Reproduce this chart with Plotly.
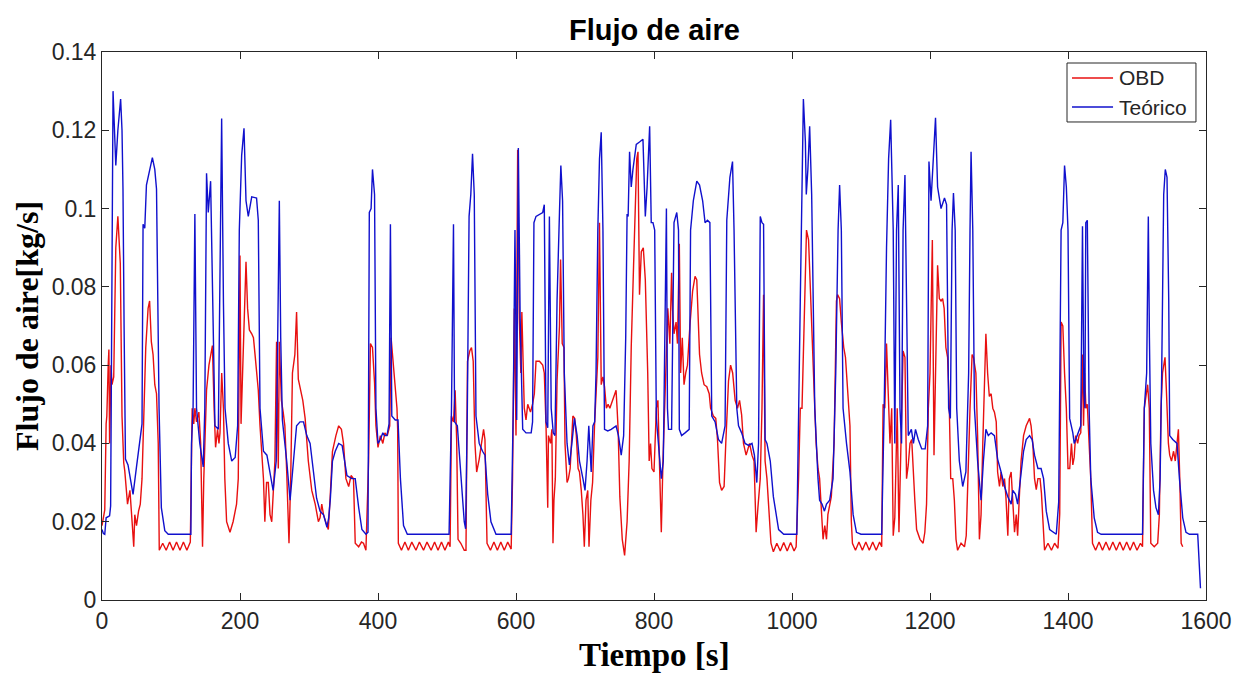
import plotly.graph_objects as go

# OBD (measured) air flow: (time [s], flow [kg/s])
obd_points = [
    (0, 0.019), (2, 0.021), (4, 0.023), (6, 0.045), (7, 0.047), (9, 0.06), (10, 0.064), (11, 0.04),
    (13, 0.06), (14.5, 0.055), (17, 0.057), (20, 0.09), (23, 0.098), (26.5, 0.086), (29, 0.047),
    (31.5, 0.035), (33, 0.033), (37, 0.0245), (40.5, 0.028), (44, 0.019), (46, 0.0136), (47.5, 0.0218),
    (50, 0.019), (53, 0.0227), (55.5, 0.0245), (58, 0.031), (60.5, 0.049), (63.4, 0.0645), (66.8, 0.0745),
    (69, 0.0764), (71.5, 0.066), (74, 0.0627), (76.5, 0.055), (79, 0.0527), (81.5, 0.04), (83, 0.0127),
    (88, 0.0145), (93, 0.0127), (98, 0.0148), (103, 0.0127), (108, 0.0148), (113, 0.0127), (118, 0.0148),
    (123, 0.0127), (128, 0.0148), (130.7, 0.049), (133, 0.045), (134.6, 0.049), (137, 0.0455),
    (140.4, 0.048), (143, 0.04), (145.7, 0.0136), (147.5, 0.031), (151.5, 0.0536), (155, 0.06), (160, 0.065),
    (162.5, 0.049), (164.6, 0.039), (167.5, 0.0436), (169.5, 0.04), (171, 0.0427), (173.5, 0.058),
    (176, 0.049), (178, 0.031), (180.6, 0.02), (185.5, 0.0173), (190, 0.02), (195, 0.0245), (197.5, 0.031),
    (200, 0.088), (201.5, 0.045), (204.8, 0.067), (208.7, 0.0864), (211, 0.0745), (213.6, 0.069),
    (217, 0.068), (219.5, 0.067), (221.8, 0.0627), (224, 0.058), (226.5, 0.0536), (229, 0.0445),
    (232, 0.036), (234, 0.031), (236, 0.02), (238.5, 0.03), (241, 0.03), (243.5, 0.0218), (246, 0.02),
    (248, 0.0273), (250.6, 0.0355), (253, 0.066), (255.5, 0.0336), (257, 0.066), (260, 0.051),
    (262.6, 0.048), (265, 0.0445), (267.7, 0.0327), (271, 0.0145), (273.5, 0.031), (276, 0.058),
    (279.5, 0.0627), (282, 0.0736), (284.5, 0.0564), (287, 0.0545), (291, 0.051), (294.4, 0.0464),
    (297, 0.04), (299, 0.0355), (304, 0.028), (309, 0.0245), (313.6, 0.02), (316, 0.021), (318.5, 0.0245),
    (321, 0.0218), (326, 0.019), (328, 0.018), (330.6, 0.026), (334, 0.038), (339, 0.042), (343, 0.0445),
    (347, 0.0436), (350, 0.04), (353.5, 0.031), (357.5, 0.029), (361, 0.0318), (364.5, 0.031),
    (367, 0.0145), (372, 0.0136), (376, 0.0148), (379, 0.0145), (382.5, 0.0127), (386.4, 0.0355),
    (389, 0.0655), (392, 0.0645), (395, 0.0555), (397, 0.0445), (400, 0.039), (403.4, 0.042), (407, 0.04),
    (410, 0.0427), (413.5, 0.042), (417, 0.0445), (419, 0.067), (421.5, 0.061), (425, 0.0536),
    (427.5, 0.049), (428.5, 0.0436), (429.5, 0.0145), (434, 0.0127), (439, 0.0148), (444, 0.0127),
    (449, 0.0148), (455, 0.0127), (460, 0.0148), (466, 0.0127), (471, 0.0148), (477, 0.0127),
    (482, 0.0148), (487, 0.0127), (492, 0.0148), (497, 0.0127), (502, 0.0148), (504.5, 0.0136),
    (506.5, 0.047), (509.4, 0.0455), (511.8, 0.0536), (514, 0.041), (516, 0.0155), (520, 0.0145),
    (525, 0.0127), (527.5, 0.0127), (529.7, 0.061), (533, 0.0636), (535.5, 0.0645), (538, 0.061),
    (540.5, 0.04), (543, 0.0327), (546.7, 0.036), (550, 0.04), (553, 0.0436), (555, 0.041), (558, 0.0145),
    (563, 0.0127), (568, 0.0148), (573, 0.0127), (578, 0.0148), (583, 0.0127), (588, 0.0148), (593, 0.013),
    (595, 0.031), (597.6, 0.0745), (600, 0.042), (602.4, 0.115), (604.8, 0.072), (607, 0.058),
    (608.5, 0.0736), (612, 0.049), (614.5, 0.046), (617, 0.05), (621, 0.048), (624, 0.05), (626.6, 0.0527),
    (629, 0.061), (634, 0.061), (638.7, 0.06), (641, 0.058), (643.5, 0.0445), (646, 0.0236), (647, 0.042),
    (650, 0.04), (652, 0.0436), (653.6, 0.0145), (655, 0.0255), (657, 0.031), (659.5, 0.056), (663, 0.07),
    (664.6, 0.087), (667, 0.0655), (669.5, 0.0645), (671, 0.04), (674, 0.03), (676, 0.031), (678.5, 0.0336),
    (682.4, 0.047), (685, 0.0464), (687.4, 0.042), (690, 0.0336), (692, 0.0327), (694.6, 0.028),
    (697, 0.0218), (699, 0.0136), (701.5, 0.0255), (704, 0.028), (705.8, 0.0136), (708.5, 0.0255),
    (711, 0.03), (713.8, 0.0445), (718.6, 0.062), (721, 0.0964), (723.5, 0.055), (726, 0.057),
    (728.3, 0.0545), (731, 0.049), (733.5, 0.05), (736, 0.049), (740, 0.051), (745, 0.0536), (746.5, 0.049),
    (748, 0.0436), (750.5, 0.0264), (754, 0.0155), (757.4, 0.0114), (761, 0.02), (764, 0.0355),
    (767, 0.0645), (770.4, 0.0855), (773, 0.1036), (775, 0.1127), (776.8, 0.1145), (779, 0.078),
    (781.6, 0.089), (784.5, 0.09), (787.4, 0.0818), (790.9, 0.058), (793, 0.0355), (795, 0.04),
    (797, 0.0336), (800, 0.0327), (803.4, 0.049), (805.7, 0.051), (808, 0.0345), (810.6, 0.0173),
    (813, 0.0355), (816.5, 0.058), (820, 0.0745), (823, 0.0655), (825.5, 0.0836), (827, 0.074),
    (829, 0.068), (832, 0.071), (834, 0.0655), (836.7, 0.091), (838.6, 0.058), (841, 0.067),
    (843.5, 0.055), (846, 0.058), (848.5, 0.06), (852, 0.07), (856, 0.079), (859.5, 0.0827), (862, 0.0818),
    (866, 0.0627), (869, 0.058), (872.6, 0.055), (876.5, 0.0545), (880, 0.0527), (882, 0.049), (886, 0.047),
    (889.5, 0.0464), (892, 0.041), (895, 0.03), (898, 0.028), (901.6, 0.029), (904, 0.04), (908, 0.056),
    (911, 0.06), (914, 0.058), (917.6, 0.051), (921, 0.049), (924, 0.051), (927, 0.0473), (929.7, 0.04),
    (933.5, 0.037), (938.5, 0.04), (942, 0.037), (945, 0.0355), (948, 0.0173), (950.6, 0.0236), (954, 0.031),
    (956.5, 0.049), (958.8, 0.078), (961, 0.0355), (963.7, 0.031), (966, 0.0245), (969.5, 0.0145),
    (973, 0.0123), (978, 0.0145), (983, 0.0125), (988, 0.0147), (993, 0.0125), (998, 0.0147),
    (1003, 0.0125), (1006, 0.0136), (1009.5, 0.031), (1012, 0.049), (1014.5, 0.049), (1017, 0.067),
    (1021, 0.0945), (1024, 0.092), (1025.6, 0.0836), (1028, 0.0764), (1030.4, 0.058), (1033, 0.049),
    (1035, 0.04), (1037.7, 0.0336), (1040, 0.031), (1042.5, 0.0218), (1045, 0.0155), (1047.5, 0.019),
    (1050, 0.0155), (1052, 0.0218), (1054.6, 0.0245), (1057, 0.0264), (1061, 0.04), (1064.4, 0.0764),
    (1066, 0.078), (1069, 0.077), (1071.5, 0.071), (1075, 0.0645), (1077.5, 0.062), (1080.5, 0.0536),
    (1084, 0.0445), (1086, 0.02), (1087.6, 0.0145), (1092, 0.0127), (1097, 0.0148), (1102, 0.0127),
    (1107, 0.0148), (1112, 0.0127), (1117, 0.0148), (1122, 0.0127), (1127, 0.0148), (1130, 0.0136),
    (1132, 0.05), (1134.5, 0.049), (1137, 0.0655), (1139.5, 0.0527), (1142, 0.04), (1144.5, 0.049),
    (1146.7, 0.0164), (1149, 0.021), (1152.5, 0.049), (1155, 0.0173), (1158, 0.04), (1161, 0.0636),
    (1163.7, 0.062), (1166, 0.031), (1168.5, 0.0345), (1171, 0.04), (1173.5, 0.041), (1176, 0.031),
    (1178, 0.0255), (1180.6, 0.018), (1185.5, 0.0155), (1190, 0.0145), (1192.5, 0.0173), (1195, 0.0245),
    (1197.6, 0.049), (1200, 0.058), (1203.4, 0.092), (1205.8, 0.037), (1208, 0.058), (1211, 0.0855),
    (1213.5, 0.077), (1216, 0.0764), (1218.3, 0.077), (1220.5, 0.0745), (1223, 0.0645), (1225.5, 0.062),
    (1228, 0.049), (1230, 0.031), (1233, 0.031), (1235.3, 0.0255), (1237.7, 0.0155), (1240, 0.0127),
    (1245, 0.0145), (1250, 0.0136), (1252.5, 0.0164), (1254.7, 0.031), (1258, 0.049), (1261, 0.0627),
    (1263, 0.062), (1266.5, 0.058), (1269, 0.042), (1271.6, 0.0155), (1274, 0.0218), (1276.5, 0.04),
    (1279, 0.058), (1281, 0.068), (1283.5, 0.058), (1286, 0.052), (1288.6, 0.0527), (1291, 0.049),
    (1293.4, 0.048), (1296, 0.0455), (1298, 0.0327), (1300.7, 0.029), (1303, 0.0327), (1305.5, 0.029),
    (1308, 0.031), (1310, 0.0264), (1312.8, 0.0164), (1315, 0.031), (1317.6, 0.0327), (1320, 0.0264),
    (1322.5, 0.0173), (1325, 0.0218), (1327, 0.0164), (1329.5, 0.0264), (1332, 0.0355), (1335.6, 0.042),
    (1339.4, 0.0445), (1344.3, 0.0464), (1346.5, 0.0445), (1349, 0.04), (1351.5, 0.031), (1354, 0.0282),
    (1356.4, 0.031), (1359.5, 0.031), (1361.5, 0.0273), (1366, 0.0127), (1371, 0.0145), (1376, 0.0127),
    (1380.6, 0.0145), (1385.5, 0.0132), (1388, 0.022), (1390, 0.071), (1392.5, 0.07), (1395, 0.058),
    (1397.6, 0.049), (1400, 0.0336), (1402.5, 0.0336), (1405, 0.04), (1407, 0.0345), (1409, 0.0365),
    (1411, 0.042), (1414, 0.04), (1416, 0.042), (1418.5, 0.0427), (1421, 0.0627), (1422.5, 0.0445),
    (1424, 0.058), (1426, 0.049), (1428, 0.05), (1430.6, 0.04), (1433, 0.031), (1435.5, 0.0145),
    (1440, 0.0127), (1445, 0.0148), (1450, 0.0127), (1455, 0.0148), (1460, 0.0127), (1465, 0.0148),
    (1470, 0.0127), (1475, 0.0148), (1480, 0.0127), (1485, 0.0148), (1490, 0.0127), (1495, 0.0148),
    (1500, 0.0127), (1505, 0.0145), (1508, 0.0136), (1510.6, 0.049), (1513, 0.0527), (1515.4, 0.055),
    (1517.8, 0.049), (1520, 0.0145), (1525, 0.0136), (1530, 0.0145), (1532.4, 0.0218), (1534.8, 0.049),
    (1537, 0.058), (1540.6, 0.062), (1542.6, 0.0536), (1545.5, 0.04), (1547.4, 0.037), (1550, 0.0355),
    (1553, 0.038), (1555.5, 0.0355), (1558, 0.04), (1560, 0.0436), (1562, 0.031), (1564, 0.0145),
    (1566.3, 0.0136),
]

# Theoretical air flow: (time [s], flow [kg/s])
teo_points = [
    (0, 0.018), (2, 0.017), (4, 0.0168), (6, 0.021), (11, 0.0215), (12.5, 0.024), (16, 0.130), (20, 0.111),
    (23, 0.12), (27, 0.128), (29, 0.12), (30.4, 0.105), (32, 0.07), (34, 0.036), (37.7, 0.0345),
    (41.5, 0.031), (45, 0.027), (50, 0.034), (54.6, 0.04), (58, 0.045), (59.5, 0.096), (62, 0.095),
    (64.4, 0.106), (69, 0.11), (73, 0.113), (76.5, 0.11), (79, 0.105), (82.7, 0.049), (86, 0.0236),
    (91, 0.0177), (96, 0.0168), (128.8, 0.0168), (129.7, 0.04), (132, 0.049), (134.6, 0.0986), (137, 0.049),
    (141.7, 0.04), (146.7, 0.034), (149, 0.049), (151.5, 0.109), (154, 0.099), (157.4, 0.107),
    (160.5, 0.076), (163.7, 0.0445), (168.6, 0.0436), (171, 0.076), (173.4, 0.123), (176, 0.076),
    (178.3, 0.049), (183, 0.04), (188, 0.0355), (193, 0.0364), (196.6, 0.0445), (199, 0.0945),
    (202.4, 0.1136), (205.8, 0.1205), (208.7, 0.102), (212, 0.098), (217, 0.103), (224, 0.1027),
    (226.5, 0.097), (229, 0.049), (234, 0.038), (239, 0.037), (243.5, 0.0327), (248, 0.028),
    (252.5, 0.0355), (255, 0.067), (257, 0.102), (259, 0.067), (261.4, 0.046), (267.7, 0.0355),
    (272.6, 0.0255), (277.5, 0.0355), (282, 0.0445), (287, 0.0455), (292, 0.0455), (296.8, 0.042),
    (301.6, 0.04), (306.5, 0.0327), (311, 0.026), (316, 0.0227), (321, 0.0218), (326, 0.0186),
    (328.5, 0.0209), (331, 0.026), (334, 0.0355), (338, 0.038), (343, 0.04), (348, 0.0395), (351.5, 0.036),
    (355, 0.0318), (362, 0.031), (367, 0.031), (372, 0.0236), (376.7, 0.018), (382.5, 0.0168),
    (385.5, 0.0173), (387.4, 0.099), (390, 0.1), (392, 0.11), (395, 0.1036), (397, 0.049), (400, 0.04),
    (403.4, 0.041), (407, 0.0427), (409.5, 0.042), (413, 0.042), (416, 0.045), (418, 0.096), (420, 0.047),
    (425, 0.046), (429, 0.046), (432.5, 0.031), (437, 0.019), (442.5, 0.0168), (503, 0.0168),
    (506.5, 0.049), (509.4, 0.096), (511, 0.0455), (515, 0.0445), (520, 0.0327), (525, 0.02),
    (527, 0.0182), (529.5, 0.049), (532, 0.098), (534.5, 0.1036), (537, 0.114), (539.5, 0.1036),
    (542, 0.047), (546.7, 0.04), (551.5, 0.038), (555, 0.037), (559, 0.027), (563.7, 0.02), (571, 0.0168),
    (593, 0.0168), (596, 0.049), (598.5, 0.0945), (601, 0.046), (603.4, 0.1155), (606, 0.072),
    (609.7, 0.0436), (614.5, 0.0427), (622, 0.0427), (624, 0.0455), (626, 0.0964), (629, 0.098),
    (634, 0.0986), (638.7, 0.099), (641, 0.101), (643.5, 0.0455), (646, 0.044), (648.4, 0.098),
    (651, 0.049), (654, 0.0427), (656.5, 0.042), (659.5, 0.0764), (663, 0.099), (665, 0.111),
    (667.5, 0.102), (670, 0.058), (674, 0.04), (677.4, 0.0345), (681, 0.04), (684.7, 0.0464),
    (688.6, 0.042), (692, 0.0355), (697, 0.031), (700, 0.028), (703, 0.0355), (705.5, 0.0445),
    (709, 0.0327), (711.5, 0.0445), (714, 0.0455), (716, 0.058), (718.6, 0.0945), (721, 0.1127),
    (723.5, 0.1195), (726, 0.0945), (728.3, 0.0436), (733, 0.0432), (738, 0.0436), (745, 0.0445),
    (748.5, 0.042), (752.5, 0.037), (756, 0.042), (759, 0.067), (761, 0.0986), (762.5, 0.098),
    (764.6, 0.1145), (767, 0.1055), (769.5, 0.11), (774.3, 0.1164), (779, 0.117), (784, 0.1177),
    (787.4, 0.098), (790, 0.1055), (793.7, 0.121), (796, 0.0964), (798.5, 0.0964), (801, 0.0945),
    (803.4, 0.0464), (806, 0.04), (810.6, 0.031), (813.5, 0.0355), (816, 0.07), (818, 0.1), (819.5, 0.049),
    (821, 0.0436), (825.5, 0.0436), (829, 0.0964), (833, 0.099), (835.5, 0.0945), (836.7, 0.0436),
    (840, 0.042), (845, 0.0427), (851, 0.0436), (853, 0.0945), (857, 0.102), (862, 0.107), (866, 0.106),
    (870.5, 0.102), (874, 0.0964), (877.5, 0.097), (881, 0.0964), (883.7, 0.047), (888.6, 0.0455),
    (893.4, 0.041), (898, 0.04), (903, 0.0445), (905.5, 0.097), (910, 0.108), (913.8, 0.112),
    (916, 0.0945), (920, 0.049), (922.5, 0.0445), (927, 0.0427), (932, 0.04), (937, 0.0395), (942, 0.04),
    (945.5, 0.037), (949, 0.03), (951.5, 0.04), (954, 0.098), (956.5, 0.0964), (958.8, 0.096), (961, 0.041),
    (963.7, 0.04), (968.5, 0.0355), (973, 0.0264), (980.6, 0.018), (988, 0.0168), (1007, 0.0168),
    (1012, 0.0764), (1014.5, 0.1127), (1016.5, 0.128), (1019.4, 0.117), (1020.7, 0.1036), (1023, 0.11),
    (1025.6, 0.121), (1028.5, 0.1036), (1033, 0.049), (1037.7, 0.031), (1040, 0.0255), (1043.5, 0.0245),
    (1047, 0.0227), (1050, 0.0245), (1054.6, 0.0255), (1059.5, 0.031), (1063.4, 0.058), (1066.8, 0.0945),
    (1069, 0.106), (1071.5, 0.0945), (1074, 0.049), (1079, 0.04), (1084, 0.0327), (1088.6, 0.0218),
    (1093.4, 0.0173), (1100, 0.0168), (1130, 0.0168), (1133.6, 0.049), (1137, 0.09), (1140, 0.1127),
    (1143, 0.1227), (1146.7, 0.0945), (1149, 0.04), (1151.5, 0.0945), (1154, 0.106), (1156.5, 0.049),
    (1158.8, 0.04), (1161, 0.0945), (1163.7, 0.1086), (1166, 0.0764), (1168.5, 0.042), (1173, 0.0436),
    (1176, 0.04), (1179, 0.0436), (1183, 0.041), (1188, 0.0386), (1193, 0.0386), (1196.6, 0.0445),
    (1198.5, 0.112), (1201.5, 0.102), (1205, 0.1127), (1208, 0.1232), (1211, 0.1055), (1216, 0.1),
    (1221, 0.1027), (1224, 0.101), (1227, 0.049), (1229.5, 0.0464), (1232, 0.0945), (1234, 0.104),
    (1236.5, 0.0945), (1238.7, 0.049), (1242.5, 0.0355), (1247.4, 0.029), (1252, 0.0327), (1256, 0.058),
    (1258, 0.0945), (1259.5, 0.1145), (1262, 0.0945), (1264.4, 0.049), (1269, 0.0355), (1274, 0.0255),
    (1277.4, 0.0355), (1281, 0.0436), (1284.5, 0.042), (1288.6, 0.0427), (1293.4, 0.042), (1298, 0.036),
    (1303, 0.0327), (1308, 0.029), (1312.8, 0.0264), (1317.6, 0.0245), (1320, 0.028), (1324, 0.027),
    (1327, 0.0245), (1330.7, 0.031), (1335.6, 0.038), (1339.4, 0.041), (1344.3, 0.042), (1348, 0.041),
    (1351.5, 0.037), (1356.4, 0.0336), (1361, 0.0336), (1364.6, 0.031), (1368.5, 0.0227), (1373.4, 0.018),
    (1383, 0.0168), (1386.5, 0.025), (1390, 0.0945), (1392.5, 0.0964), (1395, 0.111), (1397.6, 0.1055),
    (1400, 0.0945), (1402.4, 0.0464), (1407, 0.0427), (1409, 0.04), (1413.7, 0.042), (1418.5, 0.0445),
    (1421, 0.0955), (1423, 0.0536), (1424.5, 0.049), (1425.8, 0.0964), (1428, 0.097), (1430.6, 0.049),
    (1433, 0.031), (1438, 0.021), (1442.8, 0.0173), (1448, 0.0168), (1508, 0.0168), (1510.6, 0.049),
    (1514, 0.058), (1516.4, 0.098), (1518, 0.067), (1520, 0.04), (1524, 0.028), (1527.5, 0.0236),
    (1531, 0.0218), (1533.5, 0.031), (1535.8, 0.058), (1538.7, 0.1036), (1541, 0.11), (1543.5, 0.108),
    (1546, 0.0764), (1547.4, 0.042), (1551.8, 0.041), (1558, 0.04), (1561.5, 0.031), (1566.3, 0.021),
    (1571, 0.0173), (1576, 0.0168), (1588, 0.0168), (1592, 0.003),
]

series_names = ["OBD", "Teórico"]
series_colors = ["rgb(232,16,16)", "rgb(16,16,205)"]

x_ticks = [0, 200, 400, 600, 800, 1000, 1200, 1400, 1600]
x_tick_text = ["0", "200", "400", "600", "800", "1000", "1200", "1400", "1600"]
y_ticks = [0, 0.02, 0.04, 0.06, 0.08, 0.1, 0.12, 0.14]
y_tick_text = ["0", "0.02", "0.04", "0.06", "0.08", "0.1", "0.12", "0.14"]

obd_t = [p[0] for p in obd_points]
obd_v = [p[1] for p in obd_points]
teo_t = [p[0] for p in teo_points]
teo_v = [p[1] for p in teo_points]

fig = go.Figure()
fig.add_trace(go.Scatter(x=obd_t, y=obd_v, mode="lines", name=series_names[0],
                         line=dict(color=series_colors[0], width=1.4), showlegend=False))
fig.add_trace(go.Scatter(x=teo_t, y=teo_v, mode="lines", name=series_names[1],
                         line=dict(color=series_colors[1], width=1.4), showlegend=False))

axis_common = dict(showgrid=False, zeroline=False, showline=True, linecolor="#262626", linewidth=1,
                   mirror="ticks", ticks="inside", ticklen=7, tickcolor="#262626",
                   tickfont=dict(family="Liberation Sans, Arial", size=23, color="#262626"))

# Legend drawn in paper coordinates (box, line samples, labels)
shapes = [
    dict(type="rect", xref="paper", yref="paper", x0=0.8741, x1=0.9909, y0=0.8723, y1=0.9799,
         line=dict(color="#262626", width=1), fillcolor="white", layer="above"),
]
legend_rows_y = [0.9526, 0.8996]
annotations = []
for name, color, ly in zip(series_names, series_colors, legend_rows_y):
    shapes.append(dict(type="line", xref="paper", yref="paper", x0=0.8786, x1=0.9158, y0=ly, y1=ly,
                       line=dict(color=color, width=1.4), layer="above"))
    annotations.append(dict(text=name, xref="paper", yref="paper", x=0.9194, y=ly,
                            xanchor="left", yanchor="middle", showarrow=False,
                            font=dict(family="Liberation Sans, Arial", size=21, color="#262626")))

annotations += [
    dict(text="<b>Flujo de aire</b>", xref="paper", yref="paper", x=0.5, y=1, yshift=22,
         xanchor="center", yanchor="middle", showarrow=False,
         font=dict(family="Liberation Sans, Arial", size=29, color="black")),
    dict(text="<b>Tiempo [s]</b>", xref="paper", yref="paper", x=0.5, y=0, yshift=-55,
         xanchor="center", yanchor="middle", showarrow=False,
         font=dict(family="Liberation Serif, Times New Roman", size=33, color="black")),
    dict(text="<b>Flujo de aire[kg/s]</b>", xref="paper", yref="paper", x=0, y=0.5, xshift=-75,
         xanchor="center", yanchor="middle", showarrow=False, textangle=-90,
         font=dict(family="Liberation Serif, Times New Roman", size=32, color="black")),
]

fig.update_layout(
    width=1246, height=682,
    margin=dict(l=102, r=40, t=52, b=82),
    paper_bgcolor="white", plot_bgcolor="white",
    xaxis=dict(range=[0, 1600], tickvals=x_ticks, ticktext=x_tick_text, **axis_common),
    yaxis=dict(range=[0, 0.14], tickvals=y_ticks, ticktext=y_tick_text, **axis_common),
    showlegend=False,
    shapes=shapes,
    annotations=annotations,
)

fig.write_html("out.html")
